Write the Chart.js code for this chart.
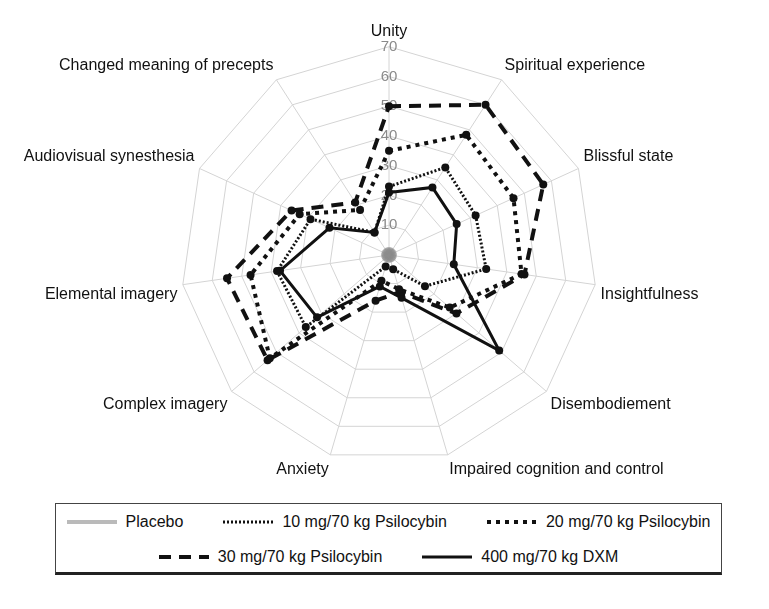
<!DOCTYPE html>
<html>
<head>
<meta charset="utf-8">
<script src="https://cdn.jsdelivr.net/npm/chart.js@4.4.1/dist/chart.umd.min.js"></script>
<style>
  body { margin: 0; background: #fff; font-family: "Liberation Sans", Arial, sans-serif; }
  #wrap { position: relative; width: 769px; height: 609px; }
  #chartBox { position: absolute; left: 0; top: 0; width: 769px; height: 486px; }
  #legend {
    position: absolute; left: 55px; top: 503px; width: 667px; height: 72px;
    box-sizing: border-box; border: 1px solid #444; border-bottom: 3px solid #222;
    display: flex; flex-direction: column; justify-content: flex-start; gap: 15px; padding-top: 8px;
    font-size: 16px; color: #111;
  }
  .row { display: flex; justify-content: center; gap: 40px; height: 20px; }
  .item { display: flex; align-items: center; }
  .item svg { margin-right: 9px; }
</style>
</head>
<body>
<div id="wrap">
  <div id="chartBox"><canvas id="radarChart"></canvas></div>
  <div id="legend"></div>
</div>
<script>
// axes, clockwise from top
const categories = ['Unity', 'Spiritual experience', 'Blissful state', 'Insightfulness', 'Disembodiement',
    'Impaired cognition and control', 'Anxiety', 'Complex imagery', 'Elemental imagery',
    'Audiovisual synesthesia', 'Changed meaning of precepts'];

const placebo = [1, 1, 1, 1, 1, 1, 1, 1, 1, 1, 1];
const psilo10 = [23, 35, 32, 33, 16, 5, 4, 37, 38, 29, 9];
const psilo20 = [35, 48, 46, 45, 27, 12, 9, 53, 47, 33, 18];
const psilo30 = [50, 60, 57, 46, 30, 13, 16, 54, 55, 36, 21];
const dxm = [21, 27, 25, 22, 49, 15, 11, 32, 37, 22, 9];

const tickValues = [0, 10, 20, 30, 40, 50, 60, 70];

const FONT = '"Liberation Sans", Arial, sans-serif';

function series(label, data, color, width, dash, pointColor, pointR) {
    return {
        label: label,
        data: data,
        borderColor: color,
        borderWidth: width,
        borderDash: dash,
        backgroundColor: 'transparent',
        fill: false,
        pointRadius: pointR,
        pointBackgroundColor: pointColor,
        pointBorderWidth: 0,
        tension: 0
    };
}

const datasets = [
    series('Placebo', placebo, 'rgba(140,140,140,0.6)', 4, [], 'rgba(140,140,140,0.5)', 5),
    series('10 mg/70 kg Psilocybin', psilo10, '#111', 3, [2, 2], '#111', 4),
    series('20 mg/70 kg Psilocybin', psilo20, '#111', 4, [4, 5], '#111', 4),
    series('30 mg/70 kg Psilocybin', psilo30, '#111', 4, [12, 8], '#111', 4),
    series('400 mg/70 kg DXM', dxm, '#111', 3, [], '#111', 4)
];

const ctx = document.getElementById('radarChart').getContext('2d');
new Chart(ctx, {
    type: 'radar',
    data: { labels: categories, datasets: datasets },
    options: {
        responsive: true,
        maintainAspectRatio: false,
        animation: false,
        layout: { padding: { top: 18, bottom: 2, left: 9, right: 0 } },
        plugins: {
            legend: { display: false },
            tooltip: { enabled: false }
        },
        scales: {
            r: {
                min: 0,
                max: 70,
                afterBuildTicks: function(scale) {
                    scale.ticks = tickValues.map(v => ({ value: v }));
                },
                grid: { color: '#d4d4d4', lineWidth: 1, circular: false },
                angleLines: { color: '#d4d4d4', lineWidth: 1 },
                ticks: {
                    color: '#8a8a8a',
                    showLabelBackdrop: false,
                    font: { family: FONT, size: 15 }
                },
                pointLabels: {
                    color: '#111',
                    padding: -4,
                    font: { family: FONT, size: 16 }
                }
            }
        }
    }
});

// legend built from the datasets
const rows = [[0, 1, 2], [3, 4]];
const legendEl = document.getElementById('legend');
rows.forEach(function(idxs) {
    const row = document.createElement('div');
    row.className = 'row';
    idxs.forEach(function(i) {
        const ds = datasets[i];
        const item = document.createElement('div');
        item.className = 'item';
        const dash = ds.borderDash.length ? ds.borderDash.join(',') : 'none';
        item.innerHTML = '<svg width="50" height="10"><line x1="0" y1="5" x2="50" y2="5" stroke="' + ds.borderColor +
            '" stroke-width="' + ds.borderWidth + '" stroke-dasharray="' + dash + '"/></svg>';
        const txt = document.createElement('span');
        txt.textContent = ds.label;
        item.appendChild(txt);
        row.appendChild(item);
    });
    legendEl.appendChild(row);
});
</script>
</body>
</html>
